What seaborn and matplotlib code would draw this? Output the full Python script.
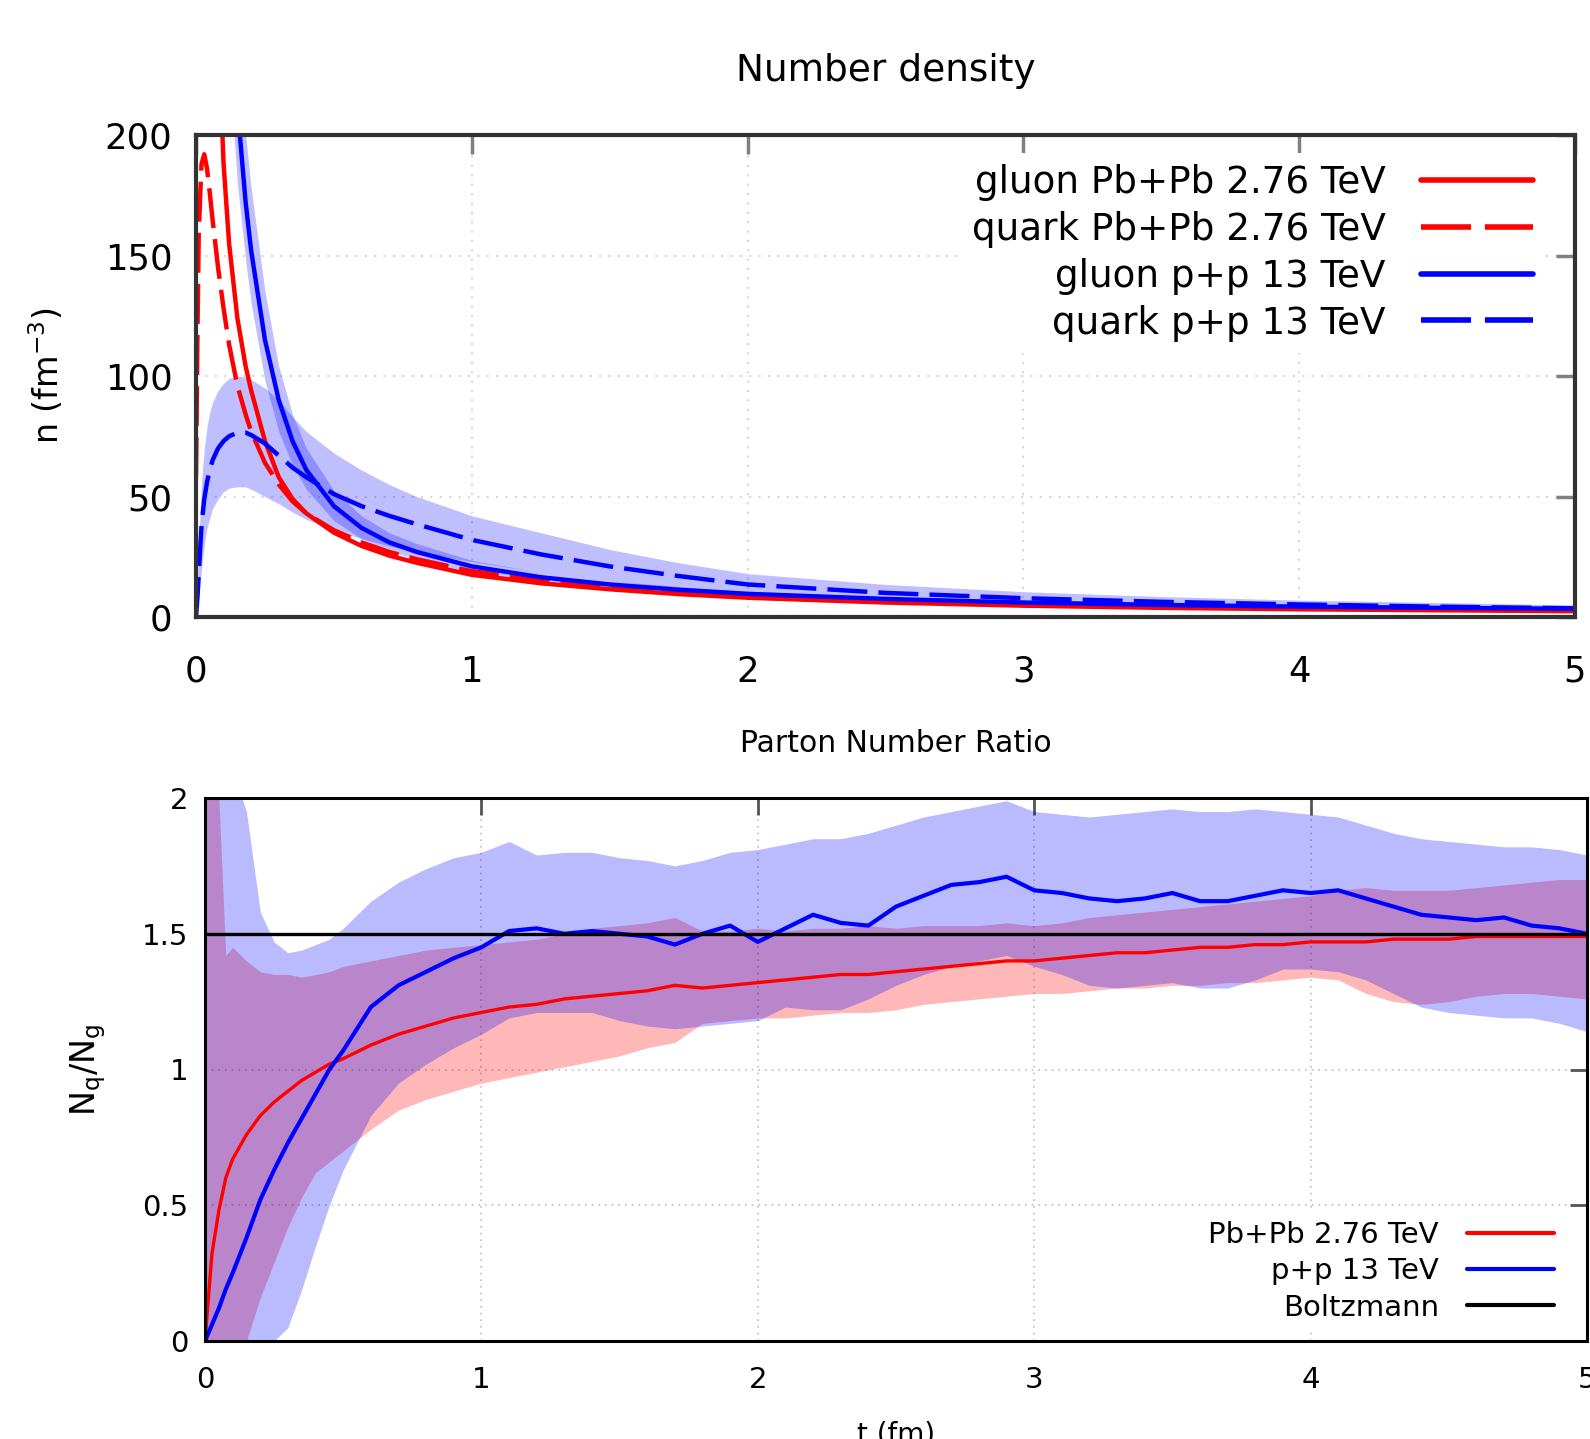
import numpy as np
import pandas as pd
import matplotlib
matplotlib.use("Agg")
import matplotlib.pyplot as plt
import seaborn as sns

# ---------------- data: top panel (number density, fm^-3) ----------------
t_top = [0, 0.005, 0.01, 0.02, 0.03, 0.04, 0.05, 0.06, 0.08, 0.1, 0.12, 0.15,
         0.18, 0.2, 0.25, 0.3, 0.35, 0.4, 0.5, 0.6, 0.7, 0.8, 1.0, 1.25, 1.5,
         1.75, 2.0, 2.5, 3.0, 3.5, 4.0, 4.5, 5.0]
nan = np.nan
gluon_pbpb = [nan, nan, nan, nan, nan, nan, 420, 330, 245, 188, 155, 124,
              104, 94, 73, 58, 49, 43, 35, 29.5, 25.5, 22.5, 17.5, 14, 11.5,
              9.5, 8, 6.0, 4.7, 3.8, 3.2, 2.8, 2.4]
quark_pbpb = [58, 115, 160, 188, 192, 186, 176, 165, 145, 128, 113, 96,
              84, 77, 64, 55, 48, 43, 36, 31, 27, 24, 19, 15.5, 12.5,
              10.5, 9, 7, 5.6, 4.6, 3.9, 3.4, 3.0]
gluon_pp = [nan, nan, nan, nan, nan, nan, nan, nan, nan, 330, 270, 212,
            172, 152, 115, 90, 73, 61, 46, 37, 31, 27, 21, 16.5, 13.5,
            11.3, 9.6, 7.5, 6.0, 5.0, 4.3, 3.8, 3.4]
gluon_pp_lo = [nan, nan, nan, nan, nan, nan, nan, nan, nan, 280, 230, 180,
               148, 130, 98, 77, 63, 53, 40, 32.5, 27.5, 24, 18.5, 14.5, 12,
               10, 8.5, 6.6, 5.3, 4.4, 3.8, 3.4, 3.0]
gluon_pp_hi = [nan, nan, nan, nan, nan, nan, nan, nan, nan, 390, 320, 250,
               200, 178, 135, 104, 84, 70, 52.5, 42, 35, 30.5, 23.5, 18.5, 15,
               12.6, 10.7, 8.4, 6.7, 5.6, 4.8, 4.2, 3.8]
quark_pp = [0, 8, 18, 38, 49, 56, 61, 65, 70, 73, 75, 76.5,
            76.5, 75.5, 72, 67, 62, 58, 51, 46, 42, 38.5, 32, 26, 21,
            17, 13.5, 10, 7.8, 6.3, 5.2, 4.3, 3.6]
quark_pp_lo = [0, 3, 8, 20, 30, 37, 41, 45, 49, 52, 53.5, 54,
               54, 53, 50, 47, 43.5, 40.5, 36, 32.5, 29.5, 27, 23, 18.5, 15,
               12, 9.5, 7, 5.3, 4.3, 3.5, 2.9, 2.4]
quark_pp_hi = [0, 14, 30, 56, 70, 79, 85, 89, 94, 97, 99, 100,
               99.5, 98.5, 95, 90, 83, 77, 68, 61, 55, 50, 42, 35, 28,
               22.5, 18, 13.5, 10.5, 8.5, 7, 6, 5]

# ---------------- data: bottom panel (N_q / N_g) ----------------
t_ratio = [0, 0.025, 0.05, 0.075, 0.1, 0.15, 0.2, 0.25, 0.3, 0.35, 0.4, 0.45,
           0.5, 0.6, 0.7, 0.8, 0.9, 1.0, 1.1, 1.2, 1.3, 1.4, 1.5, 1.6, 1.7,
           1.8, 1.9, 2.0, 2.1, 2.2, 2.3, 2.4, 2.5, 2.6, 2.7, 2.8, 2.9, 3.0,
           3.1, 3.2, 3.3, 3.4, 3.5, 3.6, 3.7, 3.8, 3.9, 4.0, 4.1, 4.2, 4.3,
           4.4, 4.5, 4.6, 4.7, 4.8, 4.9, 5.0]
ratio_pbpb = [0.00, 0.32, 0.48, 0.60, 0.67, 0.76, 0.83, 0.88, 0.92, 0.96, 0.99, 1.02,
              1.04, 1.09, 1.13, 1.16, 1.19, 1.21, 1.23, 1.24, 1.26, 1.27, 1.28, 1.29, 1.31,
              1.30, 1.31, 1.32, 1.33, 1.34, 1.35, 1.35, 1.36, 1.37, 1.38, 1.39, 1.40, 1.40,
              1.41, 1.42, 1.43, 1.43, 1.44, 1.45, 1.45, 1.46, 1.46, 1.47, 1.47, 1.47, 1.48,
              1.48, 1.48, 1.49, 1.49, 1.49, 1.49, 1.49]
ratio_pbpb_hi = [2.10, 2.10, 2.00, 1.42, 1.45, 1.40, 1.36, 1.35, 1.35, 1.34, 1.35, 1.36,
                 1.38, 1.40, 1.42, 1.44, 1.45, 1.46, 1.47, 1.48, 1.50, 1.52, 1.53, 1.54, 1.56,
                 1.51, 1.51, 1.52, 1.51, 1.52, 1.52, 1.53, 1.52, 1.53, 1.53, 1.53, 1.54, 1.53,
                 1.54, 1.56, 1.57, 1.58, 1.59, 1.60, 1.61, 1.62, 1.63, 1.64, 1.66, 1.67, 1.66,
                 1.66, 1.66, 1.67, 1.68, 1.69, 1.70, 1.70]
ratio_pbpb_lo = [0.00, 0.00, 0.00, 0.00, 0.00, 0.00, 0.16, 0.29, 0.42, 0.53, 0.62, 0.66,
                 0.70, 0.78, 0.85, 0.89, 0.92, 0.95, 0.97, 0.99, 1.01, 1.03, 1.05, 1.08, 1.10,
                 1.17, 1.18, 1.19, 1.19, 1.20, 1.21, 1.21, 1.22, 1.24, 1.25, 1.26, 1.27, 1.28,
                 1.28, 1.29, 1.30, 1.30, 1.31, 1.31, 1.32, 1.32, 1.33, 1.34, 1.33, 1.28, 1.25,
                 1.24, 1.25, 1.27, 1.28, 1.28, 1.27, 1.26]
ratio_pp = [0.00, 0.06, 0.12, 0.19, 0.25, 0.38, 0.52, 0.63, 0.73, 0.82, 0.91, 1.00,
            1.07, 1.23, 1.31, 1.36, 1.41, 1.45, 1.51, 1.52, 1.50, 1.51, 1.50, 1.49, 1.46,
            1.50, 1.53, 1.47, 1.52, 1.57, 1.54, 1.53, 1.60, 1.64, 1.68, 1.69, 1.71, 1.66,
            1.65, 1.63, 1.62, 1.63, 1.65, 1.62, 1.62, 1.64, 1.66, 1.65, 1.66, 1.63, 1.60,
            1.57, 1.56, 1.55, 1.56, 1.53, 1.52, 1.50]
ratio_pp_hi = [2.10, 2.10, 2.10, 2.10, 2.10, 1.95, 1.58, 1.47, 1.43, 1.44, 1.46, 1.48,
               1.52, 1.62, 1.69, 1.74, 1.78, 1.80, 1.84, 1.79, 1.80, 1.80, 1.78, 1.77, 1.75,
               1.77, 1.80, 1.81, 1.83, 1.85, 1.85, 1.87, 1.90, 1.93, 1.95, 1.97, 1.99, 1.95,
               1.94, 1.93, 1.94, 1.95, 1.96, 1.95, 1.95, 1.96, 1.95, 1.94, 1.93, 1.90, 1.87,
               1.85, 1.84, 1.83, 1.82, 1.82, 1.81, 1.79]
ratio_pp_lo = [0.00, 0.00, 0.00, 0.00, 0.00, 0.00, 0.00, 0.00, 0.05, 0.19, 0.35, 0.50,
               0.63, 0.83, 0.95, 1.02, 1.08, 1.13, 1.19, 1.21, 1.21, 1.21, 1.18, 1.16, 1.15,
               1.16, 1.17, 1.18, 1.23, 1.22, 1.22, 1.26, 1.31, 1.35, 1.38, 1.40, 1.42, 1.38,
               1.35, 1.31, 1.30, 1.31, 1.32, 1.30, 1.30, 1.33, 1.37, 1.37, 1.36, 1.33, 1.28,
               1.23, 1.21, 1.20, 1.19, 1.19, 1.17, 1.14]
boltzmann = 1.5

top_labels = ["gluon Pb+Pb 2.76 TeV", "quark Pb+Pb 2.76 TeV",
              "gluon p+p 13 TeV", "quark p+p 13 TeV"]
bottom_labels = ["Pb+Pb 2.76 TeV", "p+p 13 TeV", "Boltzmann"]
ratio_yticks = [0, 0.5, 1, 1.5, 2]
ratio_yticklabels = ["0", "0.5", "1", "1.5", "2"]

top_df = pd.DataFrame({
    "t": t_top, "gluon_pbpb": gluon_pbpb, "quark_pbpb": quark_pbpb,
    "gluon_pp": gluon_pp, "gluon_pp_lo": gluon_pp_lo, "gluon_pp_hi": gluon_pp_hi,
    "quark_pp": quark_pp, "quark_pp_lo": quark_pp_lo, "quark_pp_hi": quark_pp_hi,
})
ratio_df = pd.DataFrame({
    "t": t_ratio, "pbpb": ratio_pbpb, "pbpb_lo": ratio_pbpb_lo, "pbpb_hi": ratio_pbpb_hi,
    "pp": ratio_pp, "pp_lo": ratio_pp_lo, "pp_hi": ratio_pp_hi,
})

# %%
sns.set_style("white")
plt.rcParams["font.family"] = ["DejaVu Sans"]
plt.rcParams["text.color"] = "black"
plt.rcParams["axes.labelcolor"] = "black"
plt.rcParams["xtick.labelcolor"] = "black"
plt.rcParams["ytick.labelcolor"] = "black"

W, H = 1590, 1439
fig = plt.figure(figsize=(W / 100, H / 100), dpi=100)
ax1 = fig.add_axes([196 / W, 1 - 617 / H, (1575 - 196) / W, (617 - 135) / H])
ax2 = fig.add_axes([205 / W, 1 - 1341 / H, (1587 - 205) / W, (1341 - 798) / H])

dash = (0, (9, 2.5))
lw_top = 3.2

# ===== top panel =====
sns.lineplot(data=top_df, x="t", y="gluon_pbpb", color="red", lw=lw_top,
             ax=ax1, estimator=None, label=top_labels[0])
sns.lineplot(data=top_df, x="t", y="quark_pbpb", color="red", lw=lw_top,
             linestyle=dash, ax=ax1, estimator=None, label=top_labels[1])
ax1.fill_between(top_df["t"], top_df["gluon_pp_lo"], top_df["gluon_pp_hi"],
                 color="blue", alpha=0.25, lw=0)
ax1.fill_between(top_df["t"], top_df["quark_pp_lo"], top_df["quark_pp_hi"],
                 color="blue", alpha=0.25, lw=0)
sns.lineplot(data=top_df, x="t", y="gluon_pp", color="blue", lw=lw_top,
             ax=ax1, estimator=None, label=top_labels[2])
sns.lineplot(data=top_df, x="t", y="quark_pp", color="blue", lw=lw_top,
             linestyle=dash, ax=ax1, estimator=None, label=top_labels[3])

ax1.set_xlim(0, 5)
ax1.set_ylim(0, 200)
ax1.set_xticks([0, 1, 2, 3, 4, 5])
ax1.set_yticks([0, 50, 100, 150, 200])
ax1.grid(True, color="#d8d8d8", lw=1.5, linestyle=(0, (1, 3.5)))
ax1.tick_params(direction="in", length=14, width=2.5, color="#808080",
                top=True, right=True, labelsize=25.5)
ax1.tick_params(axis="x", pad=27)
ax1.tick_params(axis="y", pad=17)
for sp in ax1.spines.values():
    sp.set_linewidth(3)
    sp.set_color("#333333")
ax1.set_title("Number density", fontsize=27, pad=39)
ax1.set_xlabel("")
ax1.set_ylabel(r"n (fm$^{-3}$)", fontsize=24)
ax1.yaxis.set_label_coords(-0.094, 0.5)

leg1 = ax1.legend(loc="upper right", bbox_to_anchor=(0.9775, 0.962),
                  borderaxespad=0, borderpad=0.3, fontsize=26.8, handlelength=3.0,
                  handletextpad=0.95, labelspacing=0.26, markerfirst=False,
                  frameon=True, fancybox=False, framealpha=1)
leg1.get_frame().set_linewidth(0)
for line in leg1.get_lines():
    line.set_linewidth(4)

# ===== bottom panel =====
ax2.fill_between(ratio_df["t"], ratio_df["pbpb_lo"], ratio_df["pbpb_hi"],
                 color="red", alpha=0.28, lw=0)
sns.lineplot(data=ratio_df, x="t", y="pbpb", color="red", lw=2.4,
             ax=ax2, estimator=None, label=bottom_labels[0])
ax2.fill_between(ratio_df["t"], ratio_df["pp_lo"], ratio_df["pp_hi"],
                 color="blue", alpha=0.27, lw=0)
sns.lineplot(data=ratio_df, x="t", y="pp", color="blue", lw=3.0,
             ax=ax2, estimator=None, label=bottom_labels[1])
ax2.axhline(boltzmann, color="black", lw=2.4, label=bottom_labels[2])

ax2.set_xlim(0, 5)
ax2.set_ylim(0, 2)
ax2.set_xticks([0, 1, 2, 3, 4, 5])
ax2.set_yticks(ratio_yticks)
ax2.set_yticklabels(ratio_yticklabels)
ax2.grid(True, color="#bdbdbd", lw=1.2, linestyle=(0, (1, 3)))
ax2.tick_params(direction="in", length=12, width=2, color="#555555",
                top=True, right=True, labelsize=21)
ax2.tick_params(axis="x", pad=18)
ax2.tick_params(axis="y", pad=12)
for sp in ax2.spines.values():
    sp.set_linewidth(2.2)
    sp.set_color("black")
ax2.set_title("Parton Number Ratio", fontsize=21.5, pad=33)
ax2.set_ylabel(r"N$_\mathregular{q}$/N$_\mathregular{g}$", fontsize=24)
ax2.yaxis.set_label_coords(-0.07, 0.5)
ax2.set_xlabel("t (fm)", fontsize=20)
ax2.xaxis.set_label_coords(0.5, -0.1455)

leg2 = ax2.legend(loc="upper right", bbox_to_anchor=(0.9826, 0.2375),
                  borderaxespad=0, borderpad=0.3, fontsize=21, handlelength=3.0,
                  handletextpad=0.95, labelspacing=0.29, markerfirst=False,
                  frameon=True, fancybox=False, framealpha=1)
leg2.get_frame().set_linewidth(0)
for line in leg2.get_lines():
    line.set_linewidth(3)

fig.savefig("out.png", dpi=100)
